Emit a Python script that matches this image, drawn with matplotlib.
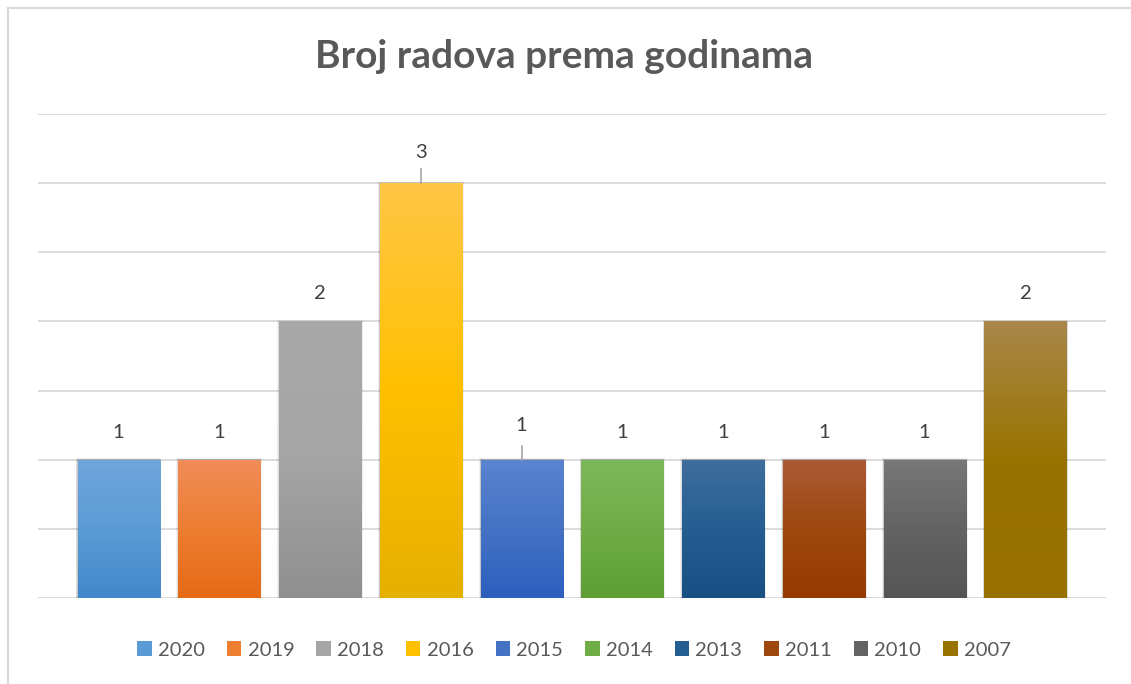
import numpy as np
import matplotlib.pyplot as plt
from matplotlib.patches import Rectangle, Patch
from matplotlib.colors import LinearSegmentedColormap
from matplotlib.lines import Line2D

plt.rcParams['font.family'] = ['Lato', 'DejaVu Sans']

godine = ['2020', '2019', '2018', '2016', '2015', '2014', '2013', '2011', '2010', '2007']
broj_radova = [1, 1, 2, 3, 1, 1, 1, 1, 1, 2]

# gradient boje: vrh, sredina (legenda), dno
boje_vrh = ['#70A6DC', '#F18D5A', '#A9A9A9', '#FFC746', '#5B84D0',
            '#7DB85A', '#3F6E9E', '#AB5B36', '#787878', '#A8874A']
boje_mid = ['#5B9BD5', '#ED7D31', '#A5A5A5', '#FFC000', '#4472C4',
            '#70AD47', '#255E91', '#9E480E', '#636363', '#997300']
boje_dno = ['#4388CB', '#E56A16', '#8F8F8F', '#E6B000', '#2E5FBF',
            '#5E9E34', '#1A4F84', '#963A00', '#555555', '#977000']

fig = plt.figure(figsize=(11.31, 6.84), dpi=100)
ax = fig.add_axes([38/1131, 1-598/684, (1106-38)/1131, (598-114)/684])

x = np.arange(len(godine))
w = 0.815
bars = ax.bar(x, broj_radova, width=w, color='none', zorder=3)

grad = np.linspace(0, 1, 256).reshape(-1, 1)
for i, b in enumerate(bars):
    h = b.get_height()
    # sjena
    for k, a in [(0.06, 0.06), (0.035, 0.08), (0.015, 0.10)]:
        ax.add_patch(Rectangle((b.get_x() - k*0.3, -0.02), w + 2*k*0.3, h + 0.02 + k*0.15,
                               facecolor='black', alpha=a, lw=0, zorder=2))
    cmap = LinearSegmentedColormap.from_list('g%d' % i, [boje_dno[i], boje_mid[i], boje_vrh[i]])
    im = ax.imshow(grad, cmap=cmap, extent=[b.get_x(), b.get_x() + w, 0, h],
                   origin='lower', aspect='auto', zorder=3)
    im.set_clip_path(b)
    # oznake
    off = 0.22 if h == 3 else 0.2
    if i == 4:
        off = 0.245
    ax.text(b.get_x() + w/2, h + off, str(broj_radova[i]), ha='center', va='center',
            fontsize=14.5, color='#404040')
    if h == 3 or i == 4:
        ax.plot([x[i], x[i]], [h, h + 0.1], color='#A6A6A6', lw=1.2, zorder=4)

ax.set_xlim(-0.8, 9.8)
ax.set_ylim(0, 3.5)
ax.set_yticks(np.arange(0, 3.51, 0.5))
ax.yaxis.grid(True, color='#D9D9D9', lw=1.3, zorder=0)
ax.set_axisbelow(True)
for s in ax.spines.values():
    s.set_visible(False)
ax.tick_params(left=False, bottom=False, labelleft=False, labelbottom=False)

fig.text(564/1131, 1-57/684, 'Broj radova prema godinama', ha='center', va='center',
         fontsize=28, fontweight='bold', color='#595959')

handles = [Patch(facecolor=c, edgecolor='none') for c in boje_mid]
fig.legend(handles, godine, loc='center', bbox_to_anchor=(574/1131, 1-650/684), ncol=10,
           frameon=False, fontsize=14.5, handlelength=0.72, handleheight=0.72,
           handletextpad=0.3, columnspacing=1.1, labelcolor='#595959')

# okvir
fig.add_artist(Line2D([8/1131, 1], [1-8/684, 1-8/684], color='#D9D9D9', lw=1.5))
fig.add_artist(Line2D([8/1131, 8/1131], [0, 1-8/684], color='#D9D9D9', lw=1.5))

fig.savefig('out.png', dpi=100)
